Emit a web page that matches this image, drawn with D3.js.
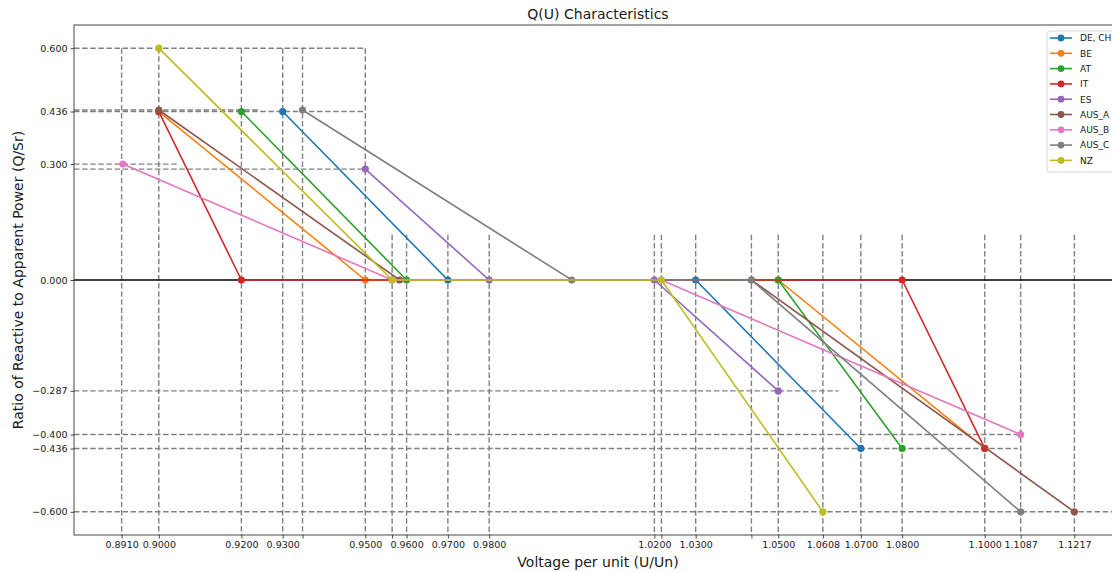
<!DOCTYPE html>
<html>
<head>
<meta charset="utf-8">
<script src="https://cdn.jsdelivr.net/npm/d3@7"></script>
<style>
  body { margin: 0; background: #fff; }
  text { font-family: "DejaVu Sans", sans-serif; fill: #1a1a1a; }
</style>
</head>
<body>
<div class="chart"></div>
<script>
// Q(U) curves, one per grid code
var seriesNames = ["DE, CH", "BE", "AT", "IT", "ES", "AUS_A", "AUS_B", "AUS_C", "NZ"];
var seriesColors = ["#1f77b4", "#ff7f0e", "#2ca02c", "#d62728", "#9467bd", "#8c564b", "#e377c2", "#7f7f7f", "#bcbd22"];

var voltagePoints = [
  [0.93, 0.97, 1.03, 1.07],
  [0.90, 0.95, 1.05, 1.10],
  [0.92, 0.96, 1.05, 1.08],
  [0.90, 0.92, 1.08, 1.10],
  [0.95, 0.98, 1.02, 1.05],
  [0.90, 0.9583, 1.0435, 1.1217],
  [0.8913, 0.9565, 1.0217, 1.1087],
  [0.9348, 1.00, 1.0435, 1.1087],
  [0.90, 0.9565, 1.0217, 1.0608]
];
var reactivePoints = [
  [0.436, 0, 0, -0.436],
  [0.436, 0, 0, -0.436],
  [0.436, 0, 0, -0.436],
  [0.436, 0, 0, -0.436],
  [0.287, 0, 0, -0.287],
  [0.44, 0, 0, -0.6],
  [0.30, 0, 0, -0.40],
  [0.44, 0, 0, -0.6],
  [0.60, 0, 0, -0.6]
];

// tick values and labels
var xTickValues = [0.891, 0.90, 0.92, 0.93, 0.9348, 0.95, 0.9565, 0.96, 0.97, 0.98,
  1.02, 1.0217, 1.03, 1.0435, 1.05, 1.0608, 1.07, 1.08, 1.10, 1.1087, 1.1217];
var xTickLabels = ["0.8910", "0.9000", "0.9200", "0.9300", "", "0.9500", "", "0.9600", "0.9700", "0.9800",
  "1.0200", "", "1.0300", "", "1.0500", "1.0608", "1.0700", "1.0800", "1.1000", "1.1087", "1.1217"];
var yTickValues = [0.6, 0.436, 0.3, 0, -0.287, -0.4, -0.436, -0.6];
var yTickLabels = ["0.600", "0.436", "0.300", "0.000", "\u22120.287", "\u22120.400", "\u22120.436", "\u22120.600"];

// dashed guide lines (levels and where they stop)
var hGuideLevels = [0.6, 0.44, 0.436, 0.3, 0.287, -0.287, -0.4, -0.436, -0.6];
var hGuideEnds = [0.95, 0.924, 0.95, 0.9048, 0.95, 1.0646, 1.1087, 1.108, 1.14];
var vGuideUpper = [0.891, 0.90, 0.92, 0.93, 0.9348, 0.95];
var vGuideLower = [0.9565, 0.96, 0.97, 0.98, 1.02, 1.0217, 1.03, 1.0435, 1.05,
  1.0608, 1.07, 1.08, 1.10, 1.1087, 1.1217];
var vGuideUpperTop = 0.6;
var vGuideLowerTop = 0.117;

var svgWidth = 1112;
var svgHeight = 572;
var margin = { top: 25, left: 74 };
var width = 1048;
var height = 510;

var svg = d3.select(".chart")
  .append("svg")
  .attr("width", svgWidth)
  .attr("height", svgHeight);

var defs = svg.append("defs");
defs.append("clipPath").attr("id", "plotclip")
  .append("rect").attr("width", width).attr("height", height);

var chartGroup = svg.append("g")
  .attr("transform", `translate(${margin.left}, ${margin.top})`);

var xScale = d3.scaleLinear()
  .domain([0.879465, 1.133235])
  .range([0, width]);
var yScale = d3.scaleLinear()
  .domain([-0.66, 0.66])
  .range([height, 0]);

var plot = chartGroup.append("g").attr("clip-path", "url(#plotclip)");

// dashed guides
var guideStyle = function(sel) {
  sel.attr("stroke", "#808080")
    .attr("stroke-width", 1.4)
    .attr("stroke-dasharray", "5.5,2.6")
    .attr("fill", "none");
};

plot.selectAll(".hguide")
  .data(hGuideLevels)
  .enter()
  .append("line")
  .attr("class", "hguide")
  .attr("x1", 0)
  .attr("x2", (d, i) => xScale(hGuideEnds[i]))
  .attr("y1", d => yScale(d))
  .attr("y2", d => yScale(d))
  .call(guideStyle);

plot.selectAll(".vguide-up")
  .data(vGuideUpper)
  .enter()
  .append("line")
  .attr("class", "vguide-up")
  .attr("x1", d => xScale(d))
  .attr("x2", d => xScale(d))
  .attr("y1", yScale(vGuideUpperTop))
  .attr("y2", height)
  .call(guideStyle);

plot.selectAll(".vguide-low")
  .data(vGuideLower)
  .enter()
  .append("line")
  .attr("class", "vguide-low")
  .attr("x1", d => xScale(d))
  .attr("x2", d => xScale(d))
  .attr("y1", yScale(vGuideLowerTop))
  .attr("y2", height)
  .call(guideStyle);

// zero line
plot.append("line")
  .attr("x1", 0)
  .attr("x2", width)
  .attr("y1", yScale(0))
  .attr("y2", yScale(0))
  .attr("stroke", "#000")
  .attr("stroke-width", 1.4);

// curves
var line = d3.line()
  .x(d => xScale(d[0]))
  .y(d => yScale(d[1]));

seriesNames.forEach(function(name, i) {
  var pts = voltagePoints[i].map((v, j) => [v, reactivePoints[i][j]]);
  var g = plot.append("g");
  g.append("path")
    .attr("d", line(pts))
    .attr("fill", "none")
    .attr("stroke", seriesColors[i])
    .attr("stroke-width", 1.6);
  g.selectAll("circle")
    .data(pts)
    .enter()
    .append("circle")
    .attr("cx", d => xScale(d[0]))
    .attr("cy", d => yScale(d[1]))
    .attr("r", 3.6)
    .attr("fill", seriesColors[i]);
});

// axes
var bottomAxis = d3.axisBottom(xScale)
  .tickValues(xTickValues)
  .tickFormat((d, i) => xTickLabels[i])
  .tickSizeInner(3.5)
  .tickSizeOuter(0)
  .tickPadding(3);
var leftAxis = d3.axisLeft(yScale)
  .tickValues(yTickValues)
  .tickFormat((d, i) => yTickLabels[i])
  .tickSizeInner(3.5)
  .tickSizeOuter(0)
  .tickPadding(3);

var xAxis = chartGroup.append("g")
  .attr("transform", `translate(0, ${height})`)
  .call(bottomAxis);
var yAxis = chartGroup.append("g")
  .call(leftAxis);

[xAxis, yAxis].forEach(function(ax) {
  ax.select(".domain").remove();
  ax.selectAll(".tick line").attr("stroke", "#333").attr("stroke-width", 0.9);
  ax.selectAll(".tick text")
    .attr("font-size", "9.5px")
    .attr("font-family", "DejaVu Sans")
    .attr("fill", "#1a1a1a");
});

// frame
chartGroup.append("rect")
  .attr("width", width)
  .attr("height", height)
  .attr("fill", "none")
  .attr("stroke", "#333")
  .attr("stroke-width", 0.9);

// labels
svg.append("text")
  .attr("x", margin.left + width / 2)
  .attr("y", 19)
  .attr("text-anchor", "middle")
  .attr("font-size", "14px")
  .text("Q(U) Characteristics");

svg.append("text")
  .attr("x", margin.left + width / 2)
  .attr("y", 567)
  .attr("text-anchor", "middle")
  .attr("font-size", "14px")
  .text("Voltage per unit (U/Un)");

svg.append("text")
  .attr("transform", `translate(23, ${margin.top + height / 2}) rotate(-90)`)
  .attr("text-anchor", "middle")
  .attr("font-size", "14px")
  .text("Ratio of Reactive to Apparent Power (Q/Sr)");

// legend
var legend = svg.append("g").attr("transform", "translate(1047, 31)");
legend.append("rect")
  .attr("width", 90)
  .attr("height", 141)
  .attr("rx", 2.5)
  .attr("fill", "#fff")
  .attr("fill-opacity", 0.8)
  .attr("stroke", "#d0d0d0")
  .attr("stroke-width", 0.9);

seriesNames.forEach(function(name, i) {
  var row = legend.append("g").attr("transform", `translate(0, ${7 + i * 15.3})`);
  row.append("line")
    .attr("x1", 3).attr("x2", 25)
    .attr("y1", 0).attr("y2", 0)
    .attr("stroke", seriesColors[i])
    .attr("stroke-width", 1.6);
  row.append("circle")
    .attr("cx", 14).attr("cy", 0).attr("r", 3.4)
    .attr("fill", seriesColors[i]);
  row.append("text")
    .attr("x", 33)
    .attr("y", 3.3)
    .attr("font-size", "9px")
    .text(name);
});
</script>
</body>
</html>
